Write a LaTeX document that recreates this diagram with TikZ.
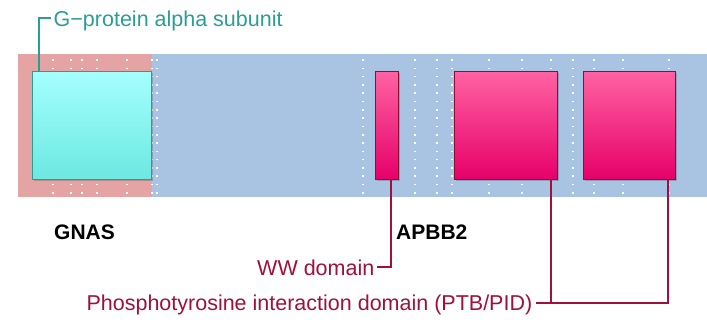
\documentclass[tikz,border=0pt]{standalone}
\usepackage{fontspec}
\setmainfont{Liberation Sans}
\usetikzlibrary{positioning}
\definecolor{bgpink}{RGB}{228,164,164}
\definecolor{bgblue}{RGB}{168,196,226}
\definecolor{tealc}{RGB}{42,157,150}
\definecolor{cyantop}{RGB}{164,255,255}
\definecolor{cyanbot}{RGB}{108,232,224}
\definecolor{magtop}{RGB}{255,98,162}
\definecolor{magbot}{RGB}{230,0,106}
\definecolor{crim}{RGB}{160,16,58}
\definecolor{darkred}{RGB}{140,14,50}
\tikzset{
  x=1pt, y=-1pt,
  dombox/.style={draw=darkred, line width=1pt, top color=magtop, bottom color=magbot, inner sep=0pt, anchor=north west},
  gbox/.style={draw=tealc, line width=1.2pt, top color=cyantop, bottom color=cyanbot, inner sep=0pt, anchor=north west},
  gene/.style={font=\fontsize{21}{24}\selectfont\bfseries, inner sep=0pt, text=black},
  lab/.style={font=\fontsize{21.5}{25}\selectfont, inner sep=0pt},
  conn/.style={line width=2pt}
}
\newcommand{\dotcol}[2]{% x, list of rows
  \foreach \k in {#2} { \fill[white] (#1-0.8,60+8.3*\k-0.8) rectangle (#1+0.8,60+8.3*\k+0.8); }}
\begin{document}
\begin{tikzpicture}
\useasboundingbox (0,0) rectangle (707,327);
\fill[white] (0,0) rectangle (707,327);
% backgrounds
\fill[bgblue] (152,54) rectangle (707,196.5);
\fill[bgpink] (18,54) rectangle (152,196.5);
% dots
\foreach \x in {53,71,82,97,127,489,522,551,594,623,669} { \dotcol{\x}{0,1,15,16} }
\foreach \x in {152,157,363,415,437,452,573} { \dotcol{\x}{0,...,16} }
% shadows
\foreach \a/\b in {32/151,375/398,454/557,583/675} {
  \fill[black, opacity=0.18] (\a+1.5,72.5) rectangle (\b+1.5,180.5);
}
% boxes
\node[gbox, minimum width=119pt, minimum height=108pt] (gnasd) at (32,71) {};
\node[dombox, minimum width=23pt, minimum height=108pt] (ww) at (375,71) {};
\node[dombox, minimum width=103pt, minimum height=108pt] (ptb1) at (454,71) {};
\node[dombox, minimum width=92pt, minimum height=108pt] (ptb2) at (583,71) {};
% gene names
\node[gene, anchor=base west] (gnas) at (54,239.5) {GNAS};
\node[gene, anchor=base west] (apbb2) at (396,239.5) {APBB2};
% labels
\node[lab, text=tealc, anchor=base west] (glab) at (53.5,26) {G−protein alpha subunit};
\node[lab, text=crim, anchor=base east] (wwlab) at (374.5,275) {WW domain};
\node[lab, text=crim, anchor=base east] (ptblab) at (532.5,310.5) {Phosphotyrosine interaction domain (PTB/PID)};
\coordinate (gend) at (51,18);
\coordinate (wwend) at (377,267);
\coordinate (ptbend) at (536,302.5);
% connectors
\draw[conn, tealc] ([xshift=7pt]gnasd.north west) |- (gend);
\draw[conn, crim] ([xshift=3.5pt]ww.south) |- (wwend);
\draw[conn, crim] ([xshift=45pt]ptb1.south) -- ([xshift=45pt]ptb1.south |- ptbend);
\draw[conn, crim] ([xshift=38pt]ptb2.south) |- (ptbend);
\end{tikzpicture}
\end{document}
